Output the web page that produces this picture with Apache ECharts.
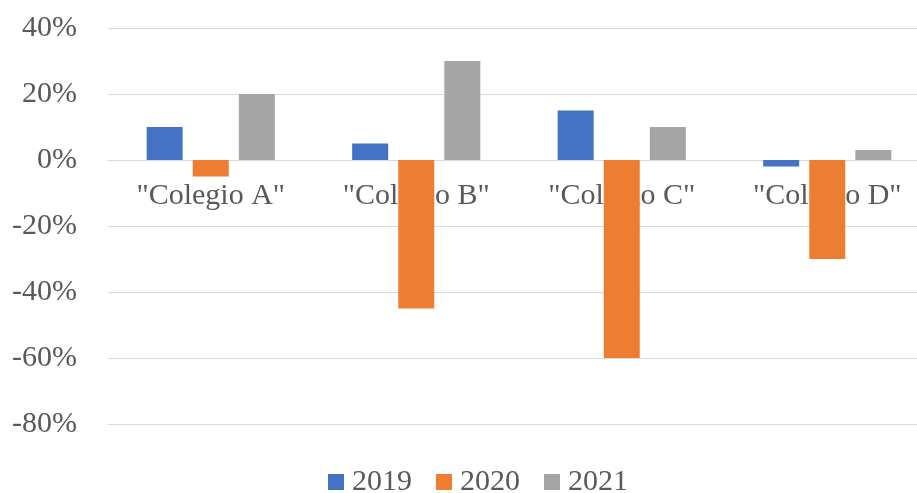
<!DOCTYPE html>
<html><head><meta charset="utf-8">
<script src="https://cdn.jsdelivr.net/npm/echarts@6/dist/echarts.min.js"></script>
<style>html,body{margin:0;padding:0;background:#fff}#c{width:917px;height:493px}</style>
</head><body><div id="c"></div>
<script>
const categories = ['"Colegio A"', '"Colegio B"', '"Colegio C"', '"Colegio D"'];
const seriesNames = ['2019', '2020', '2021'];
const s2019 = [10, 5, 15, -2];
const s2020 = [-5, -45, -60, -30];
const s2021 = [20, 30, 10, 3];
const colors = ['#4472C4', '#ED7D31', '#A5A5A5'];
const font = 'Liberation Serif, Times New Roman, serif';
const chart = echarts.init(document.getElementById('c'), null, {renderer: 'canvas'});
const data = [s2019, s2020, s2021];
const gridTop = 28, gridBottom = 69, H = 493;
const yMin = -80, yMax = 40;
const plotH = H - gridTop - gridBottom;
const zeroOffset = -plotH * (0 - yMin) / (yMax - yMin);
chart.setOption({
  animation: false,
  color: colors,
  grid: {left: 108, right: -13, top: gridTop, bottom: gridBottom, containLabel: false, outerBoundsMode: 'none'},
  legend: {
    top: 467, left: 328, padding: 0, itemWidth: 16, itemHeight: 16, itemGap: 24,
    icon: 'rect',
    textStyle: {fontFamily: font, fontSize: 30, color: '#595959', padding: [0, 0, 0, 3]},
    data: seriesNames
  },
  xAxis: {
    type: 'category', data: categories, position: 'bottom', offset: zeroOffset,
    axisLine: {onZero: false, lineStyle: {color: '#d9d9d9', width: 1}},
    axisTick: {show: false},
    axisLabel: {fontFamily: font, fontSize: 30, color: '#595959', margin: 21, interval: 0}
  },
  yAxis: {
    type: 'value', min: yMin, max: yMax, interval: 20,
    axisLine: {show: false}, axisTick: {show: false},
    splitLine: {lineStyle: {color: '#d9d9d9', width: 1}},
    axisLabel: {fontFamily: font, fontSize: 30, color: '#595959', margin: 31, formatter: v => v + '%'}
  },
  series: seriesNames.map((n, i) => ({
    name: n, type: 'bar', data: data[i], barWidth: 36, barGap: '28%', z: 3
  }))
});
</script></body></html>
